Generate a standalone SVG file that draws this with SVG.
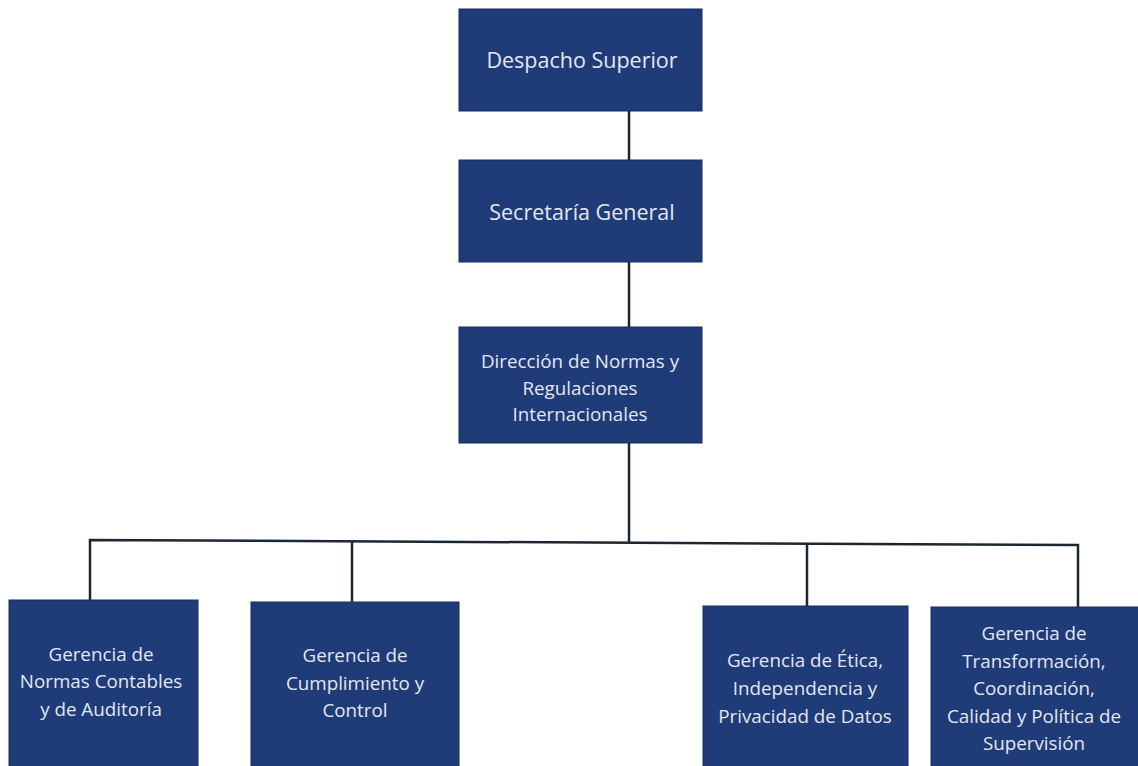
<svg xmlns="http://www.w3.org/2000/svg" width="1138" height="766" viewBox="0 0 1138 766">
<style>
.box{fill:#1f3b78;stroke:#182d5c;stroke-width:1}
.t{font-family:"Open Sans","Liberation Sans",sans-serif;fill:#e3e7f0;text-anchor:middle}
.big{font-size:21.5px}
.sm{font-size:18.8px}
.c{stroke:#1c2733;stroke-width:2.5;fill:none}
</style>
<rect width="1138" height="766" fill="#ffffff"/>
<g id="connectors">
<line class="c" x1="629" y1="111" x2="629" y2="160"/>
<line class="c" x1="629" y1="262" x2="629" y2="327"/>
<line class="c" x1="629" y1="443" x2="629" y2="543"/>
<polyline class="c" points="90,600 90,540 1078,545 1078,607"/>
<line class="c" x1="352" y1="541" x2="352" y2="602"/>
<line class="c" x1="807" y1="543" x2="807" y2="606"/>
</g>
<g id="n1"><rect class="box" x="459" y="9" width="243" height="102"/><text class="t big" x="582" y="68">Despacho Superior</text></g>
<g id="n2"><rect class="box" x="459" y="160" width="243" height="102"/><text class="t big" x="582" y="220">Secretaría General</text></g>
<g id="n3"><rect class="box" x="459" y="327" width="243" height="116"/><text class="t sm"><tspan x="580" y="368">Dirección de Normas y</tspan><tspan x="580" y="395">Regulaciones</tspan><tspan x="580" y="421">Internacionales</tspan></text></g>
<g id="n4"><rect class="box" x="9" y="600" width="189" height="170"/><text class="t sm"><tspan x="101" y="661">Gerencia de</tspan><tspan x="101" y="688">Normas Contables</tspan><tspan x="101" y="716">y de Auditoría</tspan></text></g>
<g id="n5"><rect class="box" x="251" y="602" width="208" height="170"/><text class="t sm"><tspan x="355" y="662">Gerencia de</tspan><tspan x="355" y="690">Cumplimiento y</tspan><tspan x="355" y="717">Control</tspan></text></g>
<g id="n6"><rect class="box" x="703" y="606" width="205" height="170"/><text class="t sm"><tspan x="805" y="667">Gerencia de Ética,</tspan><tspan x="805" y="695">Independencia y</tspan><tspan x="805" y="723">Privacidad de Datos</tspan></text></g>
<g id="n7"><rect class="box" x="931" y="607" width="210" height="170"/><text class="t sm"><tspan x="1034" y="640">Gerencia de</tspan><tspan x="1034" y="668">Transformación,</tspan><tspan x="1034" y="695">Coordinación,</tspan><tspan x="1034" y="723">Calidad y Política de</tspan><tspan x="1034" y="750">Supervisión</tspan></text></g>
</svg>
